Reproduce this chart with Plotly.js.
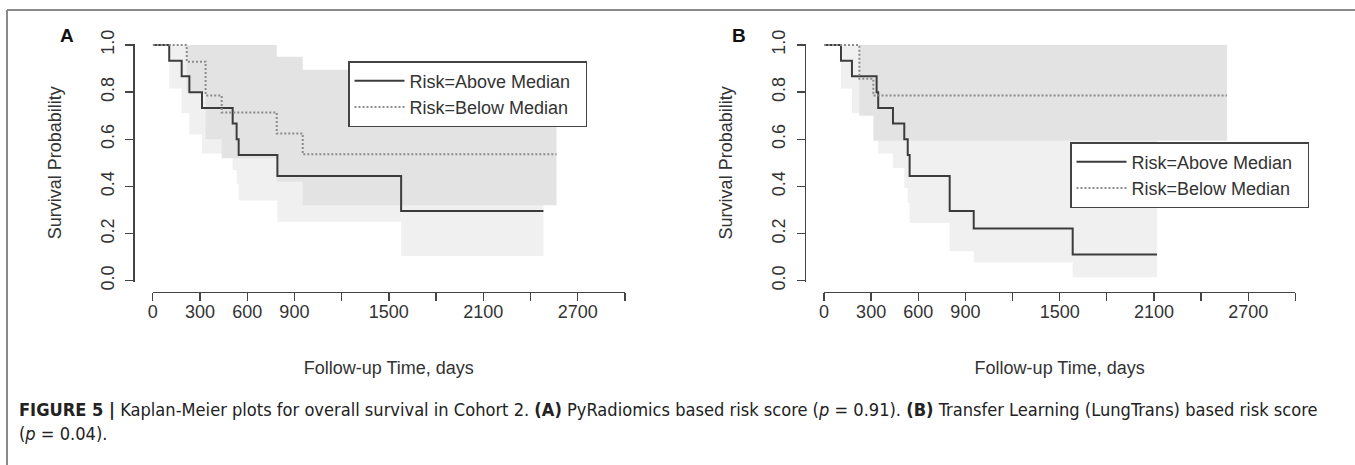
<!DOCTYPE html>
<html>
<head>
<meta charset="utf-8">
<script src="https://cdn.plot.ly/plotly-3.0.1.min.js"></script>
<style>html,body{margin:0;padding:0;background:#fff;}#chart{width:1355px;height:465px;}</style>
</head>
<body>
<div id="chart"></div>
<script>
// ---------- Panel A (PyRadiomics) ----------
const A_above_t  = [0, 105, 184, 233, 313, 508, 533, 546, 792, 1578, 2482];
const A_above_s  = [1, 0.933, 0.867, 0.8, 0.733, 0.667, 0.6, 0.533, 0.444, 0.296, 0.296];
const A_above_lo = [1, 0.815, 0.71, 0.62, 0.54, 0.47, 0.41, 0.34, 0.25, 0.105, 0.105];
const A_above_hi = [1, 1, 1, 1, 1, 0.99, 0.95, 0.9, 0.78, 0.7, 0.7];

const A_below_t  = [0, 216, 336, 438, 788, 953, 2565];
const A_below_s  = [1, 0.929, 0.786, 0.714, 0.625, 0.536, 0.536];
const A_below_lo = [1, 0.80, 0.60, 0.52, 0.42, 0.32, 0.32];
const A_below_hi = [1, 1, 1, 1, 0.95, 0.895, 0.895];

// ---------- Panel B (LungTrans) ----------
const B_above_t  = [0, 108, 178, 335, 345, 439, 511, 533, 545, 800, 953, 1583, 2120];
const B_above_s  = [1, 0.933, 0.867, 0.8, 0.733, 0.667, 0.6, 0.533, 0.444, 0.296, 0.222, 0.111, 0.111];
const B_above_lo = [1, 0.815, 0.71, 0.62, 0.54, 0.478, 0.393, 0.33, 0.245, 0.125, 0.078, 0.015, 0.015];
const B_above_hi = [1, 1, 1, 1, 1, 1, 0.97, 0.92, 0.85, 0.72, 0.66, 0.62, 0.62];

const B_below_t  = [0, 225, 314, 2565];
const B_below_s  = [1, 0.857, 0.786, 0.786];
const B_below_lo = [1, 0.70, 0.594, 0.594];
const B_below_hi = [1, 1, 1, 1];

const seriesNames = ["Risk=Above Median", "Risk=Below Median"];
const xTickVals = [0, 300, 600, 900, 1200, 1500, 1800, 2100, 2400, 2700, 3000];
const xTickText = ["0", "300", "600", "900", "", "1500", "", "2100", "", "2700", ""];
const yTickVals = [0, 0.2, 0.4, 0.6, 0.8, 1.0];
const yTickText = ["0.0", "0.2", "0.4", "0.6", "0.8", "1.0"];

// ---------- styling ----------
const W = 1355, H = 465;
const px = v => v / W;
const py = v => 1 - v / H;
const LIGHT = "#f0f0f0", MED = "#e3e3e3";
const SOLID = "#3c3c3c", DOT = "#8c8c8c";
const FONT = "'Liberation Sans', Arial, sans-serif";
const CAPFONT = "'Liberation Sans Narrow', 'DejaVu Sans Condensed', 'Arial Narrow', sans-serif";
const TXT = "#333";
const PAD = "\u00a0\u00a0";

function band(t, lo, hi, color, xa, ya) {
  return [
    {x: t, y: hi, xaxis: xa, yaxis: ya, mode: "lines", line: {width: 0, shape: "hv"}, hoverinfo: "skip", showlegend: false},
    {x: t, y: lo, xaxis: xa, yaxis: ya, mode: "lines", line: {width: 0, shape: "hv"}, fill: "tonexty", fillcolor: color, hoverinfo: "skip", showlegend: false}
  ];
}
function curve(t, s, name, solid, xa, ya, lg) {
  return {x: t, y: s, xaxis: xa, yaxis: ya, name: name + PAD, mode: "lines", legend: lg,
    line: solid ? {color: SOLID, width: 2, shape: "hv"} : {color: DOT, width: 2, shape: "hv", dash: "2px,2px"}};
}

const data = [].concat(
  band(A_above_t, A_above_lo, A_above_hi, LIGHT, "x", "y"),
  band(A_below_t, A_below_lo, A_below_hi, MED, "x", "y"),
  [curve(A_above_t, A_above_s, seriesNames[0], true, "x", "y", "legend"),
   curve(A_below_t, A_below_s, seriesNames[1], false, "x", "y", "legend")],
  band(B_above_t, B_above_lo, B_above_hi, LIGHT, "x2", "y2"),
  band(B_below_t, B_below_lo, B_below_hi, MED, "x2", "y2"),
  [curve(B_above_t, B_above_s, seriesNames[0], true, "x2", "y2", "legend2"),
   curve(B_below_t, B_below_s, seriesNames[1], false, "x2", "y2", "legend2")]
);

function xax(x0, x1) {
  return {domain: [px(x0), px(x1)], range: [0, 3000], anchor: "free", position: py(292),
    showline: true, linecolor: "#444", linewidth: 1.3, showgrid: false, zeroline: false,
    ticks: "outside", ticklen: 8, tickwidth: 1.3, tickcolor: "#444",
    tickmode: "array", tickvals: xTickVals, ticktext: xTickText, ticklabelstandoff: -5,
    tickfont: {family: FONT, size: 18, color: TXT},
    title: {text: "Follow-up Time, days", font: {family: FONT, size: 18, color: TXT}, standoff: 40},
    automargin: false, fixedrange: true};
}
function yax(pos) {
  return {domain: [py(281.9), py(43.8)], range: [-0.005, 1.005], anchor: "free", position: px(pos),
    showline: true, linecolor: "#444", linewidth: 1.3, showgrid: false, zeroline: false,
    ticks: "outside", ticklen: 8, tickwidth: 1.3, tickcolor: "#444",
    tickmode: "array", tickvals: yTickVals, ticktext: yTickText, tickangle: -90, ticklabelstandoff: 4,
    tickfont: {family: FONT, size: 18, color: TXT},
    title: {text: "Survival Probability", font: {family: FONT, size: 18, color: TXT}, standoff: 30},
    automargin: false, fixedrange: true};
}
function leg(x, y) {
  return {x: px(x), y: py(y), xanchor: "left", yanchor: "top", bgcolor: "#fff",
    bordercolor: "#444", borderwidth: 1.5, font: {family: FONT, size: 18, color: TXT},
    tracegroupgap: 0, itemwidth: 50, traceorder: "normal"};
}

const layout = {
  width: W, height: H, margin: {l: 0, r: 0, t: 0, b: 0},
  paper_bgcolor: "#fff", plot_bgcolor: "rgba(0,0,0,0)",
  xaxis: xax(152.7, 625), yaxis: yax(133.3),
  xaxis2: xax(824, 1295.3), yaxis2: yax(804.6),
  legend: leg(348, 61), legend2: leg(1070, 142),
  shapes: [
    {type: "line", xref: "paper", yref: "paper", x0: px(7), x1: 1, y0: py(10), y1: py(10), line: {color: "#8a8a8a", width: 2}},
    {type: "line", xref: "paper", yref: "paper", x0: px(7), x1: px(7), y0: py(10), y1: 0, line: {color: "#8a8a8a", width: 2}}
  ],
  annotations: [
    {text: "<b>A</b>", x: px(67), y: py(35), xref: "paper", yref: "paper", showarrow: false, xanchor: "center", yanchor: "middle", font: {family: FONT, size: 19, color: "#111"}},
    {text: "<b>B</b>", x: px(739), y: py(35), xref: "paper", yref: "paper", showarrow: false, xanchor: "center", yanchor: "middle", font: {family: FONT, size: 19, color: "#111"}},
    {text: "<b>FIGURE 5 |</b> Kaplan-Meier plots for overall survival in Cohort 2. <b>(A)</b> PyRadiomics based risk score (<i>p</i> = 0.91). <b>(B)</b> Transfer Learning (LungTrans) based risk score",
     x: px(17), y: py(409), xref: "paper", yref: "paper", showarrow: false, xanchor: "left", yanchor: "middle", align: "left",
     font: {family: CAPFONT, size: 18.1, color: "#222"}},
    {text: "(<i>p</i> = 0.04).",
     x: px(17), y: py(433), xref: "paper", yref: "paper", showarrow: false, xanchor: "left", yanchor: "middle", align: "left",
     font: {family: CAPFONT, size: 18.1, color: "#222"}}
  ]
};

Plotly.newPlot("chart", data, layout, {staticPlot: true, displayModeBar: false});
</script>
</body>
</html>
